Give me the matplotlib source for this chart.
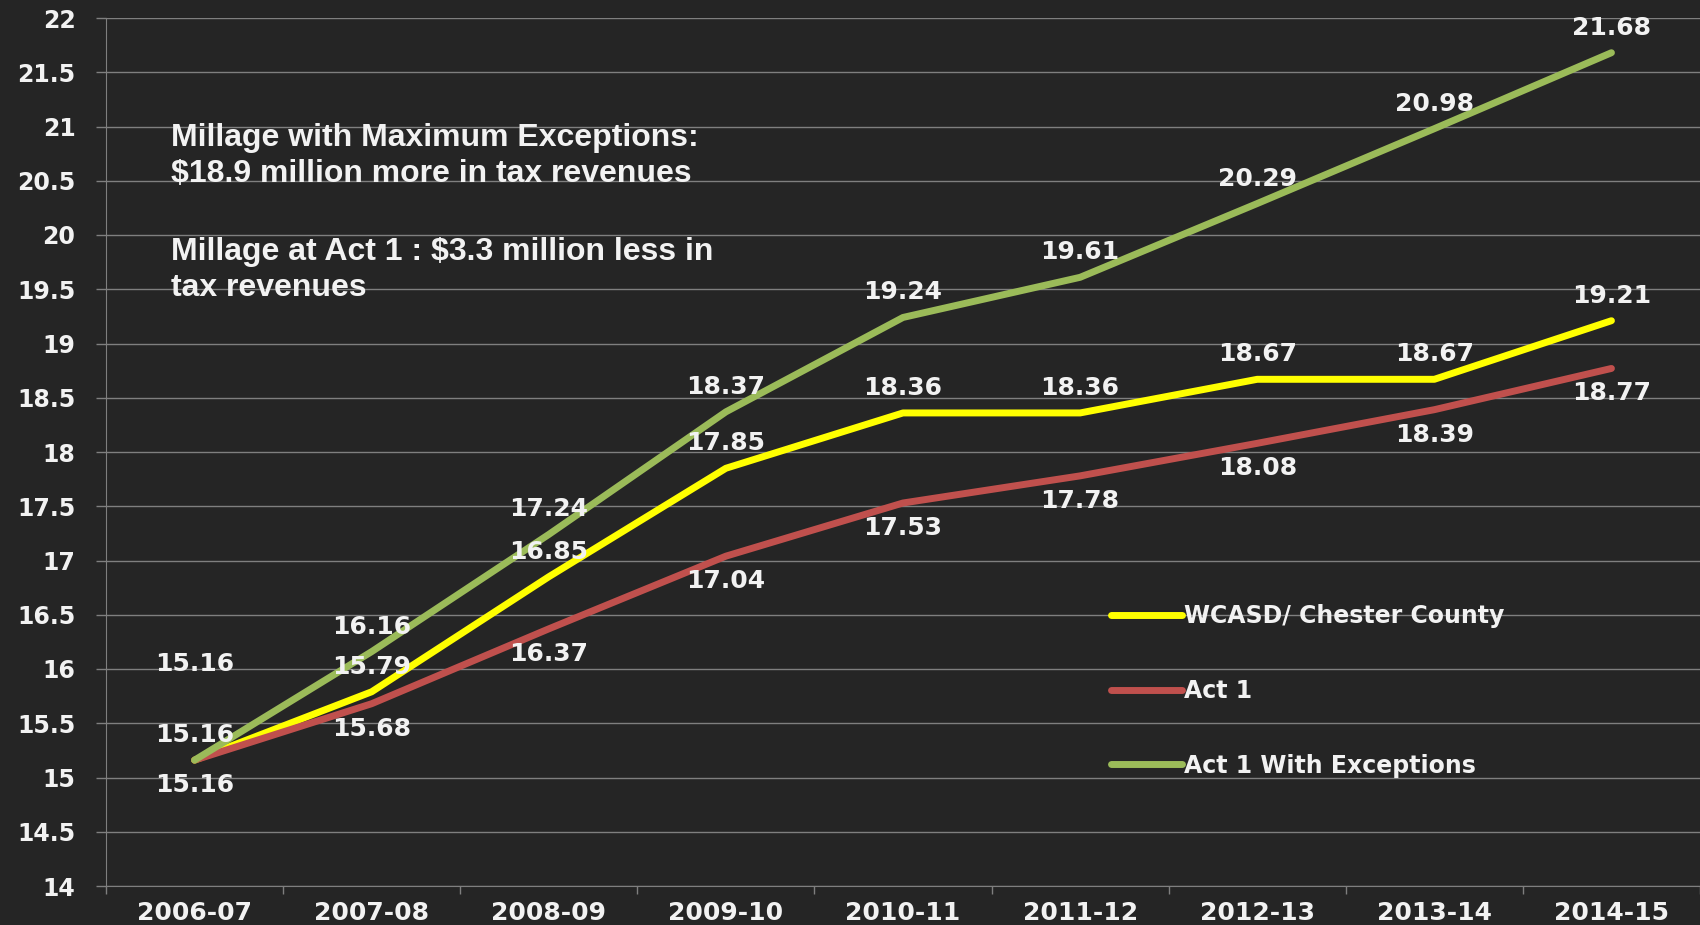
import matplotlib
matplotlib.use("Agg")
import matplotlib.pyplot as plt
from matplotlib.ticker import FixedLocator, FuncFormatter


# DATA

years = ["2006-07", "2007-08", "2008-09", "2009-10", "2010-11",
         "2011-12", "2012-13", "2013-14", "2014-15"]

wcasd = [15.16, 15.79, 16.85, 17.85, 18.36, 18.36, 18.67, 18.67, 19.21]
act1 = [15.16, 15.68, 16.37, 17.04, 17.53, 17.78, 18.08, 18.39, 18.77]
act1_exceptions = [15.16, 16.16, 17.24, 18.37, 19.24, 19.61, 20.29, 20.98, 21.68]

series_names = ["WCASD/ Chester County", "Act 1", "Act 1 With Exceptions"]

note_top = "Millage with Maximum Exceptions:\n$18.9 million more in tax revenues"
note_bottom = "Millage at Act 1 : $3.3 million less in\ntax revenues"


# STYLE

BG = "#252525"
GRID = "#7f7f7f"
TEXT = "#f2f2f2"

YELLOW = "#ffff00"
RED = "#c0504d"
GREEN = "#9bbb59"


fig = plt.figure(figsize=(17, 9.25), dpi=100, facecolor=BG)
ax = fig.add_axes([106 / 1700, 39 / 925, 1 - 106 / 1700, 1 - 39 / 925 - 18 / 925])
ax.set_facecolor(BG)

x = list(range(len(years)))

# Excel style: later series drawn on top
ax.plot(x, wcasd, color=YELLOW, lw=5, solid_capstyle="round", zorder=3, label=series_names[0])
ax.plot(x, act1, color=RED, lw=5, solid_capstyle="round", zorder=4, label=series_names[1])
ax.plot(x, act1_exceptions, color=GREEN, lw=5, solid_capstyle="round", zorder=5, label=series_names[2])


# DATA LABELS

label_font = dict(fontsize=18, fontweight="bold", color=TEXT, ha="center", va="center",
                  family="DejaVu Sans", zorder=6)

for i, v in enumerate(wcasd):
    ax.annotate(f"{v:.2f}", (i, v), xytext=(0, 18), textcoords="offset points", **label_font)

for i, v in enumerate(act1):
    ax.annotate(f"{v:.2f}", (i, v), xytext=(0, -18), textcoords="offset points", **label_font)

for i, v in enumerate(act1_exceptions):
    # first label sits well above the line in the original
    dy = 69 if i == 0 else 18
    ax.annotate(f"{v:.2f}", (i, v), xytext=(0, dy), textcoords="offset points", **label_font)


# AXES

ax.set_xlim(-0.5, len(years) - 0.5)
ax.set_ylim(14, 22)

ax.set_yticks([14 + 0.5 * k for k in range(17)])
ax.yaxis.set_major_formatter(FuncFormatter(lambda v, p: f"{v:g}"))
ax.tick_params(axis="y", length=7, width=1, color=GRID, pad=15,
               labelsize=17, labelcolor=TEXT)

ax.set_xticks(x)
ax.set_xticklabels(years)
ax.xaxis.set_minor_locator(FixedLocator([i - 0.5 for i in range(len(years) + 1)]))
ax.tick_params(axis="x", which="major", length=0, pad=11, labelsize=18, labelcolor=TEXT)
ax.tick_params(axis="x", which="minor", length=6, width=1, color=GRID)

for lbl in ax.get_xticklabels() + ax.get_yticklabels():
    lbl.set_fontweight("bold")

ax.grid(axis="y", color=GRID, lw=1)
ax.set_axisbelow(True)

for side in ["top", "right"]:
    ax.spines[side].set_visible(False)
ax.spines["left"].set_color(GRID)
ax.spines["bottom"].set_color(GRID)


# NOTE TEXT

note_font = dict(fontsize=23, fontweight="bold", family="Liberation Sans", color=TEXT,
                 ha="left", va="top", linespacing=1.25)
fig.text(171 / 1700, 1 - 123 / 925, note_top, **note_font)
fig.text(171 / 1700, 1 - 237 / 925, note_bottom, **note_font)


# LEGEND

leg = ax.legend(loc="upper left", bbox_to_anchor=(1111 / 1700, 1 - 604 / 925),
                bbox_transform=fig.transFigure, frameon=False, borderpad=0, borderaxespad=0,
                handlelength=3.0, handletextpad=0.1, labelspacing=2.15,
                prop=dict(family="DejaVu Sans", weight="bold", size=17))
for t in leg.get_texts():
    t.set_color(TEXT)
for h in leg.get_lines():
    h.set_linewidth(5)
    h.set_solid_capstyle("round")

fig.savefig("out.png", dpi=100, facecolor=BG)
